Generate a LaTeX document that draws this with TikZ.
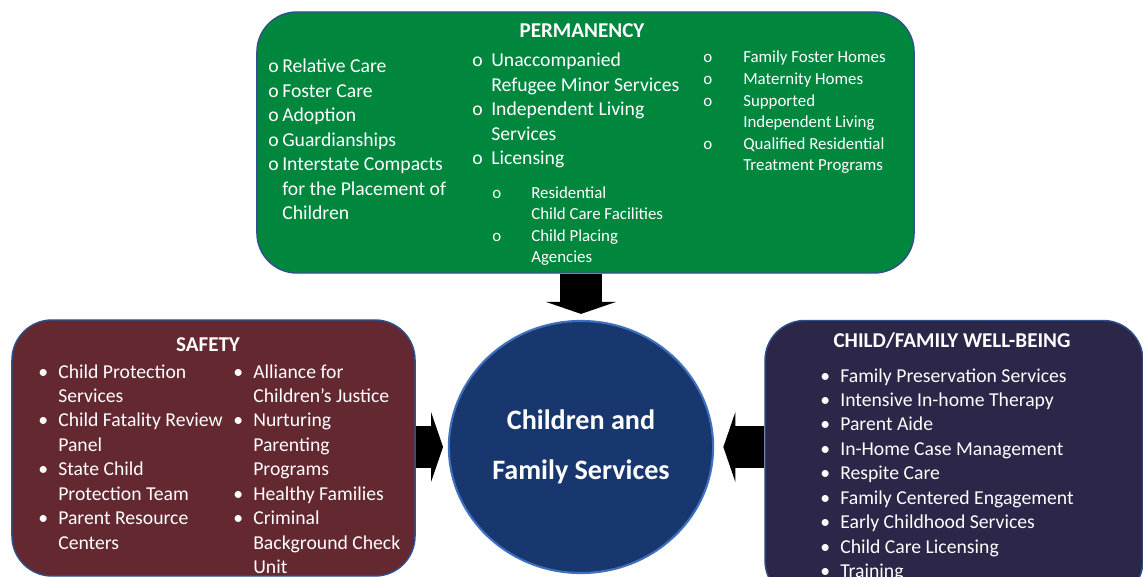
\documentclass[tikz,border=0pt]{standalone}
\usepackage{fontspec}
\setmainfont{Carlito}
\usetikzlibrary{shapes.geometric, arrows.meta, positioning}
\definecolor{permgreen}{RGB}{0,135,62}
\definecolor{safetyred}{RGB}{99,40,48}
\definecolor{wellnavy}{RGB}{44,38,72}
\definecolor{hubblue}{RGB}{23,55,110}
\definecolor{hubrim}{RGB}{62,112,190}
\definecolor{boxline}{RGB}{47,82,143}
\newcommand{\blist}[2]{\begin{tabular}[t]{@{}p{#1}@{}l@{}}#2\end{tabular}}

\tikzset{
    area/.style={draw=boxline, line width=1pt, rounded corners=1cm},
    boxtitle/.style={anchor=base, inner sep=0pt, text=white, font=\fontsize{15}{18}\selectfont\bfseries},
    biglist/.style={anchor=base west, inner sep=0pt, text=white, font=\fontsize{14}{17.4}\selectfont},
    smalllist/.style={anchor=base west, inner sep=0pt, text=white, font=\fontsize{12}{15.3}\selectfont},
    fatarrow/.style={line width=1.05cm, -{Triangle[width=1.75cm, length=0.3cm, line width=0pt]}}
}

\begin{document}
\begin{tikzpicture}[x=0.025cm, y=-0.025cm]
        \useasboundingbox (0,0) rectangle (1143,577);
        \clip (0,0) rectangle (1143,577);
        %boxes
        \node[area, fill=permgreen, minimum width=16.425cm, minimum height=6.525cm] (perm) at (585.5,142.5) {};
        \node[area, fill=safetyred, minimum width=10.075cm, minimum height=6.4cm] (safety) at (213.5,448) {};
        \node[area, fill=wellnavy, minimum width=9.45cm, minimum height=7cm] (wellbeing) at (954,460.5) {};
        %center circle
        \node[ellipse, fill=hubblue, draw=hubrim, line width=1.5pt, minimum width=6.6cm, minimum height=6.3cm,
              text=white, align=center, font=\fontsize{20}{35.6}\selectfont\bfseries] (hub) at (581,447) {Children and\\Family Services};
        %arrows
        \draw[fatarrow, shorten >=0.15cm] (hub.north |- perm.south) -- (hub.north);
        \draw[fatarrow, shorten >=0.12cm] (safety.east |- hub.west) -- (hub.west);
        \draw[fatarrow, shorten >=0.23cm] (wellbeing.west |- hub.east) -- (hub.east);
        %permanency texts
        \node[boxtitle] (permtitle) at (582,38) {PERMANENCY};
        \node[biglist] (permleft) at (268,73) {\blist{0.35cm}{o & Relative Care\\ o & Foster Care\\ o & Adoption\\ o & Guardianships\\
            o & Interstate Compacts\\ & for the Placement of\\ & Children}};
        \node[biglist] (permmid) at (472,67) {\blist{0.475cm}{o & Unaccompanied\\ & Refugee Minor Services\\ o & Independent Living\\
            & Services\\ o & Licensing}};
        \node[smalllist] (permsub) at (492,198) {\blist{0.975cm}{o & Residential\\ & Child Care Facilities\\ o & Child Placing\\ & Agencies}};
        \node[smalllist] (permright) at (703,63) {\blist{1cm}{o & Family Foster Homes\\ o & Maternity Homes\\ o & Supported\\
            & Independent Living\\ o & Qualified Residential\\ & Treatment Programs}};
        %safety texts
        \node[boxtitle] (safetytitle) at (208,351) {SAFETY};
        \node[biglist] (safetyleft) at (38,378) {\blist{0.5cm}{• & Child Protection\\ & Services\\ • & Child Fatality Review\\ & Panel\\
            • & State Child\\ & Protection Team\\ • & Parent Resource\\ & Centers}};
        \node[biglist] (safetyright) at (233,378) {\blist{0.5cm}{• & Alliance for\\ & Children’s Justice\\ • & Nurturing\\ & Parenting\\
            & Programs\\ • & Healthy Families\\ • & Criminal\\ & Background Check\\ & Unit}};
        %well-being texts
        \node[boxtitle] (welltitle) at (952,347) {CHILD/FAMILY WELL-BEING};
        \node[biglist] (welllist) at (820,382) {\blist{0.5cm}{• & Family Preservation Services\\ • & Intensive In-home Therapy\\
            • & Parent Aide\\ • & In-Home Case Management\\ • & Respite Care\\ • & Family Centered Engagement\\
            • & Early Childhood Services\\ • & Child Care Licensing\\ • & Training}};
\end{tikzpicture}
\end{document}
